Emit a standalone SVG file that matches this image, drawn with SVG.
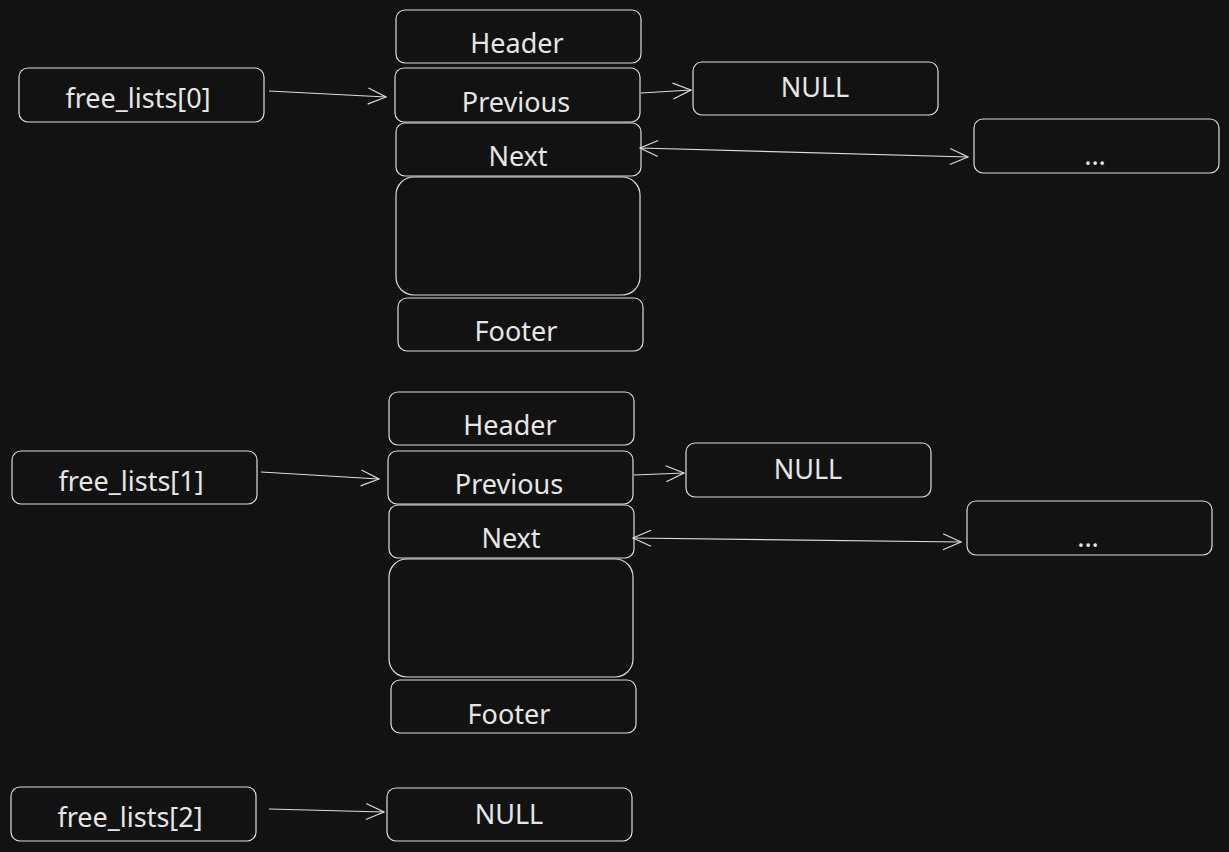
<svg xmlns="http://www.w3.org/2000/svg" width="1229" height="852" viewBox="0 0 1229 852">
<style>
.b{fill:#121212;stroke:#dcdcdc;stroke-width:1.2}
.t{fill:#e6e6e6;font-family:"Noto Sans","Open Sans",sans-serif;font-size:27px;text-anchor:middle;dominant-baseline:central}
.c{fill:none;stroke:#dcdcdc;stroke-width:1.2}
</style>
<defs>
<marker id="ah" markerUnits="userSpaceOnUse" markerWidth="24" markerHeight="20" viewBox="-20 -10 24 20" refX="0" refY="0" orient="auto-start-reverse">
<path d="M-18,-8 L0,0 L-18,8" fill="none" stroke="#dcdcdc" stroke-width="1.2"/>
</marker>
</defs>
<rect width="1229" height="852" fill="#121212"/>
<g id="n-fl0"><rect class="b" x="19" y="68" width="245" height="54" rx="9"/><text class="t" x="138" y="97">free_lists[0]</text></g>
<g id="n-h0"><rect class="b" x="396" y="10" width="245" height="53" rx="9"/><text class="t" x="517" y="42">Header</text></g>
<g id="n-p0"><rect class="b" x="395" y="68" width="245" height="54" rx="9"/><text class="t" x="516" y="101">Previous</text></g>
<g id="n-n0"><rect class="b" x="396" y="123" width="245" height="53" rx="9"/><text class="t" x="518" y="155">Next</text></g>
<g id="n-d0"><rect class="b" x="396" y="177" width="244" height="118" rx="18"/></g>
<g id="n-f0"><rect class="b" x="398" y="298" width="245" height="53" rx="9"/><text class="t" x="516" y="330">Footer</text></g>
<g id="n-null0"><rect class="b" x="693" y="62" width="245" height="53" rx="9"/><text class="t" x="815" y="86">NULL</text></g>
<g id="n-dots0"><rect class="b" x="974" y="119" width="245" height="54" rx="9"/><text class="t" x="1095" y="154">...</text></g>

<g id="n-fl1"><rect class="b" x="12" y="451" width="245" height="53" rx="9"/><text class="t" x="131" y="480">free_lists[1]</text></g>
<g id="n-h1"><rect class="b" x="389" y="392" width="245" height="53" rx="9"/><text class="t" x="510" y="424">Header</text></g>
<g id="n-p1"><rect class="b" x="388" y="451" width="245" height="53" rx="9"/><text class="t" x="509" y="483">Previous</text></g>
<g id="n-n1"><rect class="b" x="389" y="505" width="245" height="53" rx="9"/><text class="t" x="511" y="537">Next</text></g>
<g id="n-d1"><rect class="b" x="389" y="559" width="244" height="118" rx="18"/></g>
<g id="n-f1"><rect class="b" x="391" y="680" width="245" height="53" rx="9"/><text class="t" x="509" y="713">Footer</text></g>
<g id="n-null1"><rect class="b" x="686" y="443" width="245" height="54" rx="9"/><text class="t" x="808" y="468">NULL</text></g>
<g id="n-dots1"><rect class="b" x="967" y="501" width="245" height="54" rx="9"/><text class="t" x="1088" y="536">...</text></g>

<g id="n-fl2"><rect class="b" x="11" y="787" width="245" height="54" rx="9"/><text class="t" x="130" y="816">free_lists[2]</text></g>
<g id="n-null2"><rect class="b" x="387" y="788" width="245" height="53" rx="9"/><text class="t" x="509" y="813">NULL</text></g>

<g id="connectors">
<path class="c" d="M269,91 L386,97" marker-end="url(#ah)"/>
<path class="c" d="M641,93 L691,90" marker-end="url(#ah)"/>
<path class="c" d="M640,148 L968,157" marker-start="url(#ah)" marker-end="url(#ah)"/>
<path class="c" d="M261,472 L379,479" marker-end="url(#ah)"/>
<path class="c" d="M634,475 L684,473" marker-end="url(#ah)"/>
<path class="c" d="M633,538 L961,542" marker-start="url(#ah)" marker-end="url(#ah)"/>
<path class="c" d="M269,809 L384,812" marker-end="url(#ah)"/>
</g>
</svg>
